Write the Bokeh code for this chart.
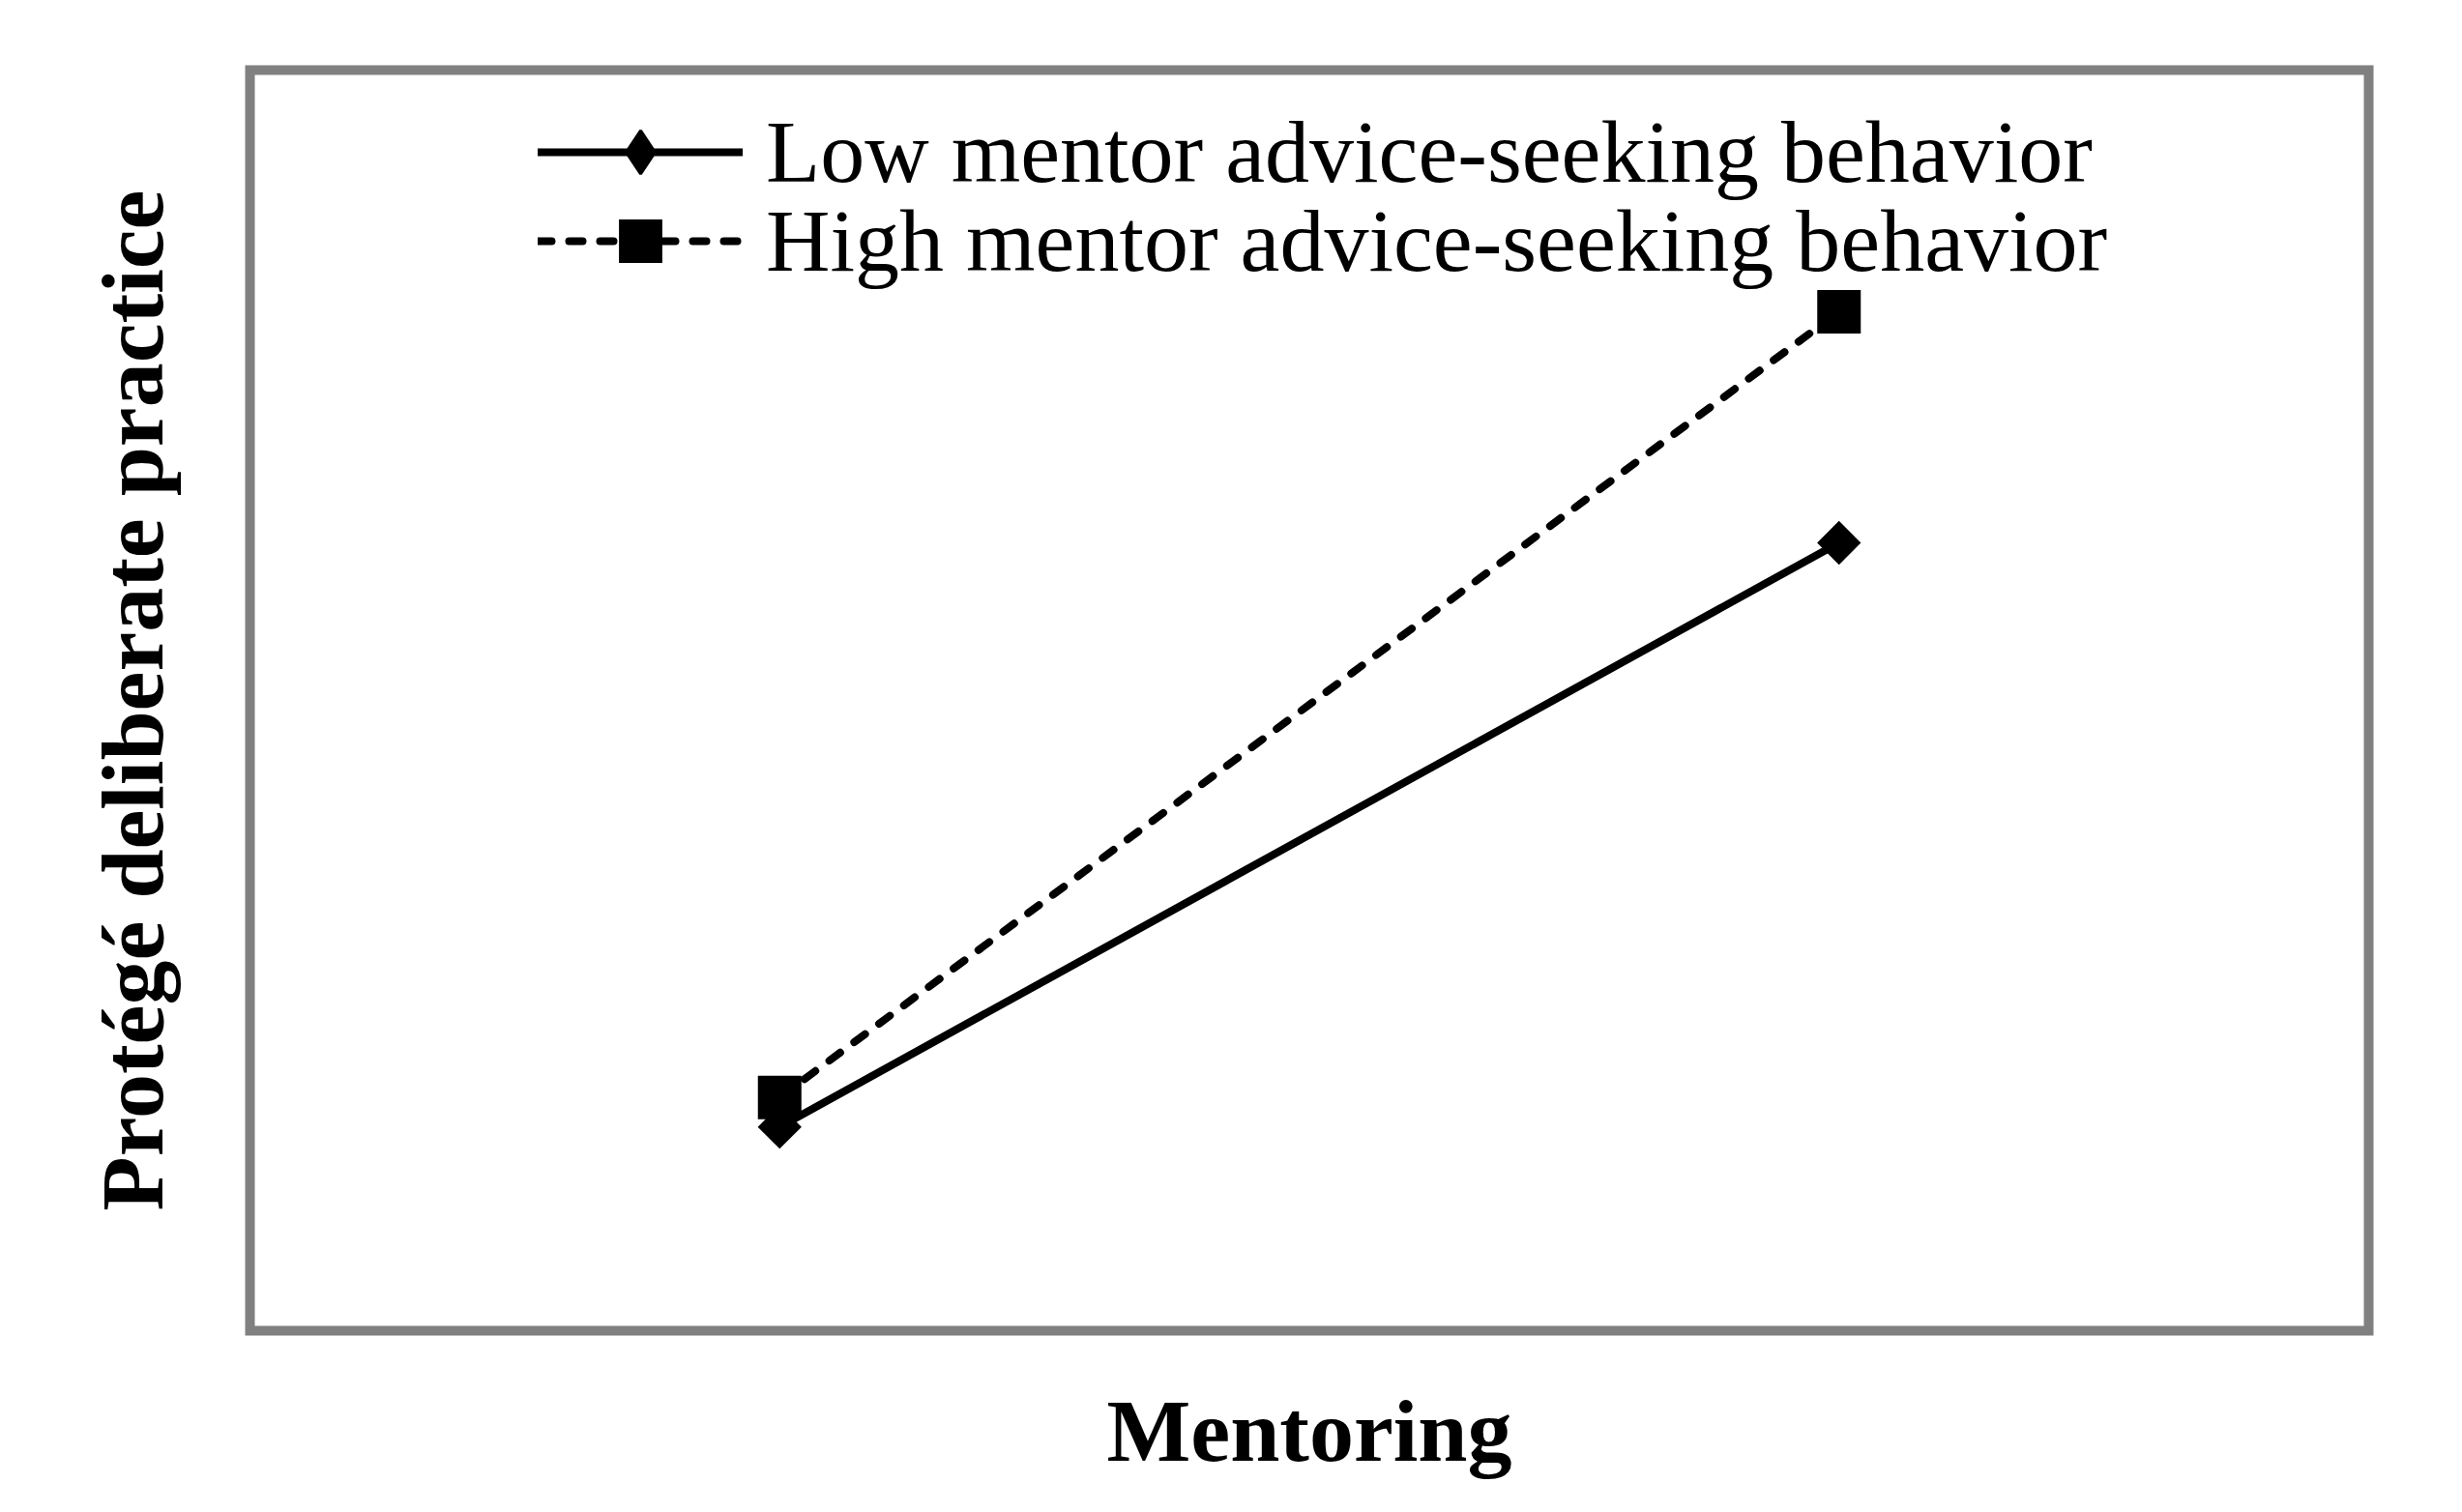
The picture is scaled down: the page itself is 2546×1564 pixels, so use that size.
import math
from bokeh.plotting import figure
from bokeh.models import Range1d, Legend, LegendItem, FixedTicker
from bokeh.embed import file_html
from bokeh.resources import INLINE

# ---- data ----
mentoring = [-1, 1]                 # low / high mentoring
low_advice = [0.97, 3.75]           # low mentor advice-seeking behavior
high_advice = [1.11, 4.85]          # high mentor advice-seeking behavior
series_labels = ["Low mentor advice-seeking behavior",
                 "High mentor advice-seeking behavior"]
x_label = "Mentoring"
y_label = "Protégé deliberate practice"

FONT = "Liberation Serif"

p = figure(width=2530, height=1548, output_backend="svg", toolbar_location=None,
           x_range=Range1d(-2, 2), y_range=Range1d(0, 6),
           min_border_left=258, min_border_right=81,
           min_border_top=72, min_border_bottom=172)

p.background_fill_color = "white"
p.border_fill_color = "white"
p.outline_line_color = "#808080"
p.outline_line_width = 10
p.outline_line_join = "miter"
p.grid.visible = False

for ax in (p.xaxis[0], p.yaxis[0]):
    ax.ticker = FixedTicker(ticks=[])
    ax.axis_line_color = None
    ax.major_tick_line_color = None
    ax.minor_tick_line_color = None
    ax.major_tick_out = 0
    ax.major_label_standoff = 0
    ax.axis_label_text_font = FONT
    ax.axis_label_text_font_style = "bold"
    ax.axis_label_text_font_size = "92px"
    ax.axis_label_text_color = "black"

p.xaxis.axis_label = x_label
p.yaxis.axis_label = y_label
p.xaxis.axis_label_standoff = 52
p.yaxis.axis_label_standoff = 71

# low series
low_line = p.line(mentoring, low_advice, line_color="black", line_width=8, line_cap="round")
low_pts = p.scatter(mentoring, low_advice, marker="square", size=32, angle=math.pi / 4,
                    fill_color="black", line_color=None)
# legend-only diamond glyph (hidden in the plot, shown by the legend)
low_key = p.scatter(mentoring, low_advice, marker="diamond", size=45,
                    fill_color="black", line_color="black", line_width=3, visible=False)
# high series
high_line = p.line(mentoring, high_advice, line_color="black", line_width=8,
                   line_dash="14 18", line_cap="round")
high_pts = p.scatter(mentoring, high_advice, marker="square", size=45,
                     fill_color="black", line_color=None)

common = dict(orientation="vertical", glyph_width=212, glyph_height=112, spacing=0,
              label_standoff=24, padding=0, margin=0,
              border_line_color=None, background_fill_alpha=0,
              label_text_font=FONT, label_text_font_size="92px",
              label_text_color="black")
legend1 = Legend(items=[LegendItem(label=series_labels[0], renderers=[low_line, low_key])],
                 location=(298, 1163), **common)
legend2 = Legend(items=[LegendItem(label=series_labels[1], renderers=[high_line, high_pts])],
                 location=(298, 1071), **common)
p.add_layout(legend1)
p.add_layout(legend2)

open("out.html", "w").write(file_html(p, INLINE))
